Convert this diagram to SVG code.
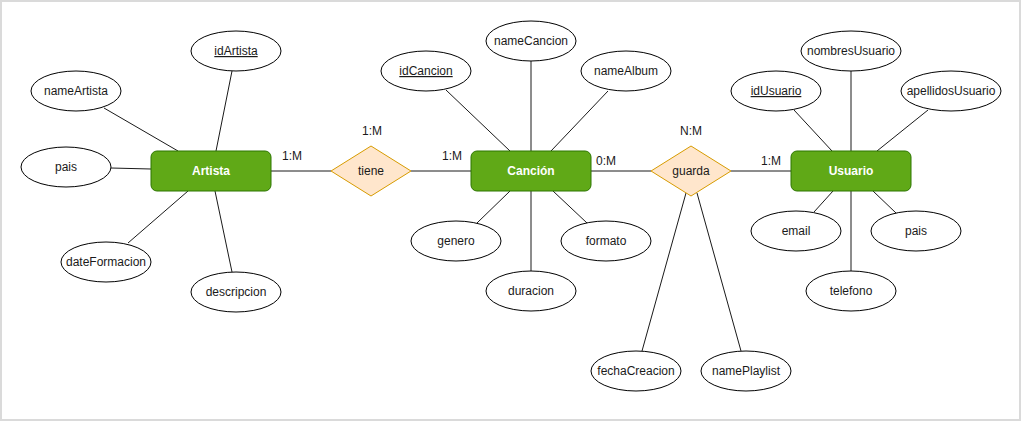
<svg xmlns="http://www.w3.org/2000/svg" width="1022" height="422" viewBox="0 0 1022 422">
<style>
.bg{fill:#fff;stroke:#dadada;stroke-width:2}
.ent{fill:#60a917;stroke:#2d7600;stroke-width:1}
.rel{fill:#ffe6cc;stroke:#d79b00;stroke-width:1}
.att{fill:#fff;stroke:#000;stroke-width:1}
.ln{stroke:#1a1a1a;stroke-width:1;fill:none}
text{font-family:"Liberation Sans",Arial,sans-serif;font-size:12px;text-anchor:middle;fill:#1a1a1a}
.et{fill:#fff;font-weight:bold}
.u{text-decoration:underline}
</style>
<rect class="bg" x="1" y="1" width="1019" height="419"/>
<g id="connectors">
<line class="ln" x1="232" y1="71" x2="216" y2="151"/>
<line class="ln" x1="104" y1="108" x2="178" y2="151"/>
<line class="ln" x1="111" y1="168" x2="151" y2="169"/>
<line class="ln" x1="128" y1="243" x2="188" y2="191"/>
<line class="ln" x1="232" y1="272" x2="215" y2="191"/>
<line class="ln" x1="271" y1="171" x2="331" y2="171"/>
<line class="ln" x1="411" y1="171" x2="471" y2="171"/>
<line class="ln" x1="446" y1="90" x2="510" y2="151"/>
<line class="ln" x1="531" y1="61" x2="531" y2="151"/>
<line class="ln" x1="608" y1="91" x2="551" y2="151"/>
<line class="ln" x1="477" y1="223" x2="510" y2="191"/>
<line class="ln" x1="587" y1="223" x2="553" y2="191"/>
<line class="ln" x1="531" y1="191" x2="531" y2="271"/>
<line class="ln" x1="591" y1="171" x2="651" y2="171"/>
<line class="ln" x1="731" y1="171" x2="791" y2="171"/>
<line class="ln" x1="686" y1="193" x2="642" y2="351"/>
<line class="ln" x1="697" y1="193" x2="741" y2="351"/>
<line class="ln" x1="794" y1="110" x2="832" y2="151"/>
<line class="ln" x1="851" y1="71" x2="851" y2="151"/>
<line class="ln" x1="928" y1="110" x2="877" y2="151"/>
<line class="ln" x1="814" y1="212" x2="833" y2="191"/>
<line class="ln" x1="896" y1="213" x2="873" y2="191"/>
<line class="ln" x1="851" y1="191" x2="851" y2="271"/>
<text x="292" y="160">1:M</text>
<text x="372" y="135">1:M</text>
<text x="452" y="160">1:M</text>
<text x="606" y="165">0:M</text>
<text x="691" y="135">N:M</text>
<text x="771" y="165">1:M</text>
</g>
<g id="artista"><rect class="ent" x="151" y="151" width="120" height="40" rx="6"/><text class="et" x="211" y="175">Artista</text></g>
<g id="idArtista"><ellipse class="att" cx="236" cy="51" rx="45" ry="20"/><text class="u" x="236" y="55">idArtista</text></g>
<g id="nameArtista"><ellipse class="att" cx="76" cy="91" rx="45" ry="20"/><text x="76" y="95">nameArtista</text></g>
<g id="paisArtista"><ellipse class="att" cx="66" cy="167" rx="45" ry="20"/><text x="66" y="171">pais</text></g>
<g id="dateFormacion"><ellipse class="att" cx="106" cy="262" rx="45" ry="20"/><text x="106" y="266">dateFormacion</text></g>
<g id="descripcion"><ellipse class="att" cx="236" cy="292" rx="45" ry="20"/><text x="236" y="296">descripcion</text></g>
<g id="tiene"><polygon class="rel" points="371,146 411,171 371,196 331,171"/><text x="371" y="175">tiene</text></g>
<g id="cancion"><rect class="ent" x="471" y="151" width="120" height="40" rx="6"/><text class="et" x="531" y="175">Canción</text></g>
<g id="idCancion"><ellipse class="att" cx="426" cy="71" rx="45" ry="20"/><text class="u" x="426" y="75">idCancion</text></g>
<g id="nameCancion"><ellipse class="att" cx="531" cy="41" rx="45" ry="20"/><text x="531" y="45">nameCancion</text></g>
<g id="nameAlbum"><ellipse class="att" cx="626" cy="71" rx="45" ry="20"/><text x="626" y="75">nameAlbum</text></g>
<g id="genero"><ellipse class="att" cx="456" cy="241" rx="45" ry="20"/><text x="456" y="245">genero</text></g>
<g id="formato"><ellipse class="att" cx="606" cy="241" rx="45" ry="20"/><text x="606" y="245">formato</text></g>
<g id="duracion"><ellipse class="att" cx="531" cy="291" rx="45" ry="20"/><text x="531" y="295">duracion</text></g>
<g id="guarda"><polygon class="rel" points="691,146 731,171 691,196 651,171"/><text x="691" y="175">guarda</text></g>
<g id="fechaCreacion"><ellipse class="att" cx="636" cy="371" rx="45" ry="20"/><text x="636" y="375">fechaCreacion</text></g>
<g id="namePlaylist"><ellipse class="att" cx="746" cy="371" rx="45" ry="20"/><text x="746" y="375">namePlaylist</text></g>
<g id="usuario"><rect class="ent" x="791" y="151" width="120" height="40" rx="6"/><text class="et" x="851" y="175">Usuario</text></g>
<g id="idUsuario"><ellipse class="att" cx="776" cy="91" rx="45" ry="20"/><text class="u" x="776" y="95">idUsuario</text></g>
<g id="nombresUsuario"><ellipse class="att" cx="851" cy="51" rx="50" ry="20"/><text x="851" y="55">nombresUsuario</text></g>
<g id="apellidosUsuario"><ellipse class="att" cx="951" cy="91" rx="50" ry="20"/><text x="951" y="95">apellidosUsuario</text></g>
<g id="email"><ellipse class="att" cx="796" cy="231" rx="45" ry="20"/><text x="796" y="235">email</text></g>
<g id="paisUsuario"><ellipse class="att" cx="916" cy="231" rx="45" ry="20"/><text x="916" y="235">pais</text></g>
<g id="telefono"><ellipse class="att" cx="851" cy="291" rx="45" ry="20"/><text x="851" y="295">telefono</text></g>
</svg>
